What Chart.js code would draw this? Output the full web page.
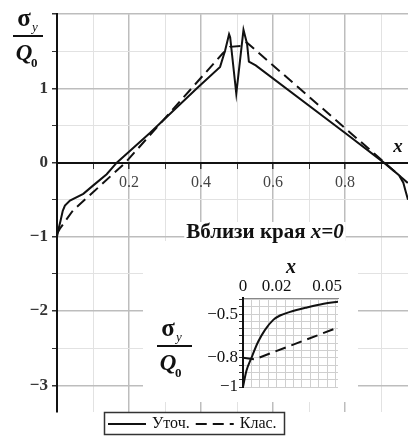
<!DOCTYPE html>
<html>
<head>
<meta charset="utf-8">
<script src="https://cdn.jsdelivr.net/npm/chart.js@4/dist/chart.umd.min.js"></script>
<style>
  html, body { margin: 0; padding: 0; background: #fff; }
  #wrap { position: relative; width: 408px; height: 436px; overflow: hidden; }
  #main { position: absolute; left: 0; top: 0; }
  #inset { position: absolute; left: 143px; top: 222px; }
</style>
</head>
<body>
<div id="wrap">
  <canvas id="main" width="408" height="436"></canvas>
  <canvas id="inset" width="215" height="180"></canvas>
</div>
<script>
/* sigma_y / Q0 along x: refined vs classical solution, with inset near edge x=0 */

const INK = '#111';
const SERIF = '"Liberation Serif", "DejaVu Serif", serif';
const DASH = [11, 6];

// main chart
const X_TICKS = [0, 0.1, 0.2, 0.3, 0.4, 0.5, 0.6, 0.7, 0.8, 0.9];
const X_LABELS = [0.2, 0.4, 0.6, 0.8];
const Y_TICKS = [-3, -2.5, -2, -1.5, -1, -0.5, 0, 0.5, 1, 1.5, 2];
const Y_LABELS = [-3, -2, -1, 0, 1];

const REFINED_X = [0, 0.004, 0.01, 0.016, 0.022, 0.036, 0.073, 0.1, 0.138, 0.166, 0.258, 0.388, 0.453, 0.467, 0.478, 0.481, 0.498, 0.518, 0.528, 0.533, 0.552, 0.806, 0.908, 0.95, 0.962, 0.968, 0.975, 0.99];
const REFINED_Y = [-1, -0.9, -0.78, -0.65, -0.58, -0.51, -0.42, -0.31, -0.156, 0, 0.4, 1.0, 1.29, 1.51, 1.73, 1.69, 0.93, 1.79, 1.6, 1.36, 1.31, 0.38, 0, -0.17, -0.27, -0.38, -0.5, -0.8];
const CLASSIC_X = [0, 0.008, 0.045, 0.1, 0.19, 0.46, 0.48, 0.51, 0.527, 0.91, 0.99];
const CLASSIC_Y = [-0.96, -0.89, -0.64, -0.4, 0, 1.47, 1.56, 1.57, 1.62, 0, -0.34];

// inset: near the edge x = 0
const INSET_X_TICKS = [0, 0.005, 0.01, 0.015, 0.02, 0.025, 0.03, 0.035, 0.04, 0.045, 0.05, 0.055];
const INSET_X_LABELS = [0, 0.02, 0.05];
const INSET_Y_TICKS = [-1, -0.95, -0.9, -0.85, -0.8, -0.75, -0.7, -0.65, -0.6, -0.55, -0.5, -0.45, -0.4];
const INSET_Y_LABELS = [-1, -0.8, -0.5];

const EDGE_REFINED_X = [0, 0.002, 0.005, 0.009, 0.013, 0.018, 0.022, 0.028, 0.038, 0.048, 0.057];
const EDGE_REFINED_Y = [-1, -0.89, -0.8, -0.69, -0.61, -0.54, -0.51, -0.485, -0.455, -0.43, -0.415];
const EDGE_CLASSIC_X = [0, 0.007, 0.057];
const EDGE_CLASSIC_Y = [-0.8, -0.81, -0.59];

const SERIES = ['Уточ.', 'Клас.'];

const toXY = (xs, ys) => xs.map((x, i) => ({ x, y: ys[i] }));
const fmt = (v) => String(v).replace('-', '\u2212');
const isMajorX = (v) => Math.abs(v * 10 % 2) < 1e-6 || Math.abs(v * 10 % 2 - 2) < 1e-6;

function drawFrac(ctx, left, barY, w) {
  ctx.save();
  ctx.fillStyle = INK;
  ctx.strokeStyle = INK;
  ctx.textAlign = 'center';
  ctx.textBaseline = 'alphabetic';
  ctx.font = 'bold 25px ' + SERIF;
  ctx.fillText('σ', left + 11, barY - 10);
  ctx.font = 'bold italic 23px ' + SERIF;
  ctx.fillText('Q', left + 11, barY + 24);
  ctx.textAlign = 'left';
  ctx.font = 'italic 13px ' + SERIF;
  ctx.fillText('y', left + 19, barY - 5);
  ctx.font = 'bold 13px ' + SERIF;
  ctx.fillText('0', left + 18, barY + 31);
  ctx.lineWidth = 2;
  ctx.beginPath();
  ctx.moveTo(left, barY);
  ctx.lineTo(left + w, barY);
  ctx.stroke();
  ctx.restore();
}

const mainDecor = {
  id: 'mainDecor',
  afterDraw(chart) {
    const ctx = chart.ctx;
    drawFrac(ctx, 13, 36, 30);
    ctx.save();
    ctx.fillStyle = INK;
    ctx.font = 'bold italic 19px ' + SERIF;
    ctx.textAlign = 'center';
    ctx.fillText('x', 398, 152);

    // legend box
    const ds = chart.data.datasets;
    ctx.fillStyle = '#fff';
    ctx.fillRect(104, 412, 180, 23);
    ctx.strokeStyle = '#333';
    ctx.lineWidth = 1.5;
    ctx.strokeRect(104.5, 412.5, 180, 22);
    ctx.font = '16px ' + SERIF;
    ctx.textAlign = 'left';
    ctx.textBaseline = 'middle';
    let x = 108;
    ds.forEach((d) => {
      ctx.strokeStyle = d.borderColor;
      ctx.lineWidth = 2;
      ctx.setLineDash(d.borderDash || []);
      ctx.beginPath();
      ctx.moveTo(x, 424);
      ctx.lineTo(x + 38, 424);
      ctx.stroke();
      ctx.setLineDash([]);
      ctx.fillStyle = INK;
      ctx.fillText(d.label, x + 44, 424);
      x += 44 + ctx.measureText(d.label).width + 6;
    });
    ctx.restore();
  },
};

new Chart(document.getElementById('main'), {
  type: 'scatter',
  data: {
    datasets: [
      { label: SERIES[0], data: toXY(REFINED_X, REFINED_Y), showLine: true, borderColor: INK, borderWidth: 2, pointRadius: 0 },
      { label: SERIES[1], data: toXY(CLASSIC_X, CLASSIC_Y), showLine: true, borderColor: INK, borderWidth: 2, borderDash: DASH, pointRadius: 0 },
    ],
  },
  options: {
    responsive: false,
    animation: false,
    devicePixelRatio: 1,
    layout: { padding: { left: 0, top: 10, right: 0, bottom: 24 } },
    plugins: { legend: { display: false }, tooltip: { enabled: false } },
    scales: {
      x: {
        type: 'linear', position: { y: 0 }, min: 0, max: 0.975,
        afterBuildTicks: (s) => { s.ticks = X_TICKS.map((v) => ({ value: v })); },
        grid: {
          color: (c) => (c.tick && isMajorX(c.tick.value) ? '#bdbdbd' : '#e2e2e2'),
          lineWidth: (c) => (c.tick && isMajorX(c.tick.value) ? 1.5 : 1),
          tickLength: 5, tickColor: '#333',
        },
        border: { color: INK, width: 2 },
        ticks: {
          autoSkip: false, maxRotation: 0, padding: 6, color: '#444',
          font: { family: SERIF, size: 16 },
          callback: (v) => (X_LABELS.includes(v) ? String(v) : ''),
        },
      },
      y: {
        type: 'linear', position: 'left', min: -3.36, max: 2,
        afterBuildTicks: (s) => { s.ticks = Y_TICKS.map((v) => ({ value: v })); },
        afterFit: (s) => { s.width = 57; },
        grid: {
          color: (c) => (c.tick && Number.isInteger(c.tick.value) ? '#bdbdbd' : '#e2e2e2'),
          lineWidth: (c) => (c.tick && Number.isInteger(c.tick.value) ? 1.5 : 1),
          tickLength: 5, tickColor: '#333',
        },
        border: { color: INK, width: 2 },
        ticks: {
          autoSkip: false, padding: 4, color: '#333',
          font: { family: SERIF, size: 17, weight: 'bold' },
          callback: (v) => (Y_LABELS.includes(v) ? fmt(v) : ''),
        },
      },
    },
  },
  plugins: [mainDecor],
});

const insetDecor = {
  id: 'insetDecor',
  beforeDraw(chart) {
    const ctx = chart.ctx;
    ctx.save();
    ctx.fillStyle = '#fff';
    ctx.fillRect(0, 19, chart.width, chart.height - 19);
    // title with white backing over the grid line
    const a = 'Вблизи края ', b = 'x=0';
    ctx.font = 'bold 21px ' + SERIF;
    const wa = ctx.measureText(a).width;
    ctx.font = 'bold italic 21px ' + SERIF;
    const wb = ctx.measureText(b).width;
    const x0 = 122 - (wa + wb) / 2;
    ctx.fillRect(x0 - 2, 0, wa + wb + 4, 22);
    ctx.fillStyle = INK;
    ctx.textBaseline = 'alphabetic';
    ctx.font = 'bold 21px ' + SERIF;
    ctx.fillText(a, x0, 16);
    ctx.font = 'bold italic 21px ' + SERIF;
    ctx.fillText(b, x0 + wa, 16);
    ctx.textAlign = 'center';
    ctx.font = 'bold italic 20px ' + SERIF;
    ctx.fillText('x', 148, 51);
    ctx.restore();
  },
  afterDraw(chart) {
    drawFrac(chart.ctx, 14, 124, 35);
  },
};

new Chart(document.getElementById('inset'), {
  type: 'scatter',
  data: {
    datasets: [
      { label: SERIES[0], data: toXY(EDGE_REFINED_X, EDGE_REFINED_Y), showLine: true, borderColor: INK, borderWidth: 2, pointRadius: 0, cubicInterpolationMode: 'monotone' },
      { label: SERIES[1], data: toXY(EDGE_CLASSIC_X, EDGE_CLASSIC_Y), showLine: true, borderColor: INK, borderWidth: 2, borderDash: DASH, pointRadius: 0 },
    ],
  },
  options: {
    responsive: false,
    animation: false,
    devicePixelRatio: 1,
    layout: { padding: { left: 0, top: 0, right: 20, bottom: 15 } },
    plugins: { legend: { display: false }, tooltip: { enabled: false } },
    scales: {
      x: {
        type: 'linear', position: 'top', min: 0, max: 0.0565,
        afterBuildTicks: (s) => { s.ticks = INSET_X_TICKS.map((v) => ({ value: v })); },
        afterFit: (s) => { s.height = 76; },
        grid: { color: '#cfcfcf', drawTicks: false },
        border: { color: '#888', width: 1 },
        ticks: {
          autoSkip: false, maxRotation: 0, padding: 1, color: INK,
          font: { family: SERIF, size: 17 },
          callback: (v) => (INSET_X_LABELS.includes(v) ? String(v) : ''),
        },
      },
      y: {
        type: 'linear', position: 'left', min: -1, max: -0.39,
        afterBuildTicks: (s) => { s.ticks = INSET_Y_TICKS.map((v) => ({ value: v })); },
        afterFit: (s) => { s.width = 100; },
        grid: { color: '#cfcfcf', tickLength: 4, tickColor: '#333' },
        border: { color: INK, width: 2 },
        ticks: {
          autoSkip: false, padding: 1, color: INK,
          font: { family: SERIF, size: 17 },
          callback: (v) => (INSET_Y_LABELS.includes(v) ? fmt(v) : ''),
        },
      },
    },
  },
  plugins: [insetDecor],
});
</script>
</body>
</html>
